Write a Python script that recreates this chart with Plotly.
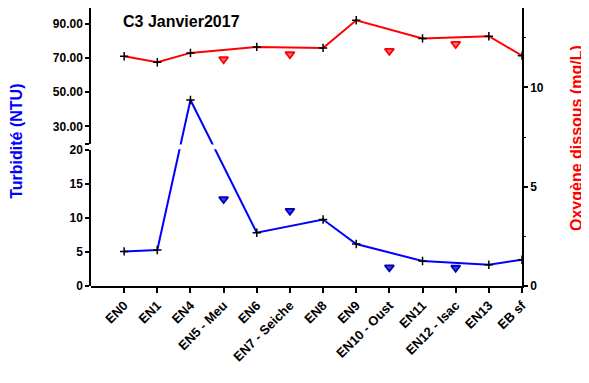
import plotly.graph_objects as go

# ---------------- data ----------------
stations = ["EN0", "EN1", "EN4", "EN5 - Meu", "EN6", "EN7 - Seiche", "EN8", "EN9",
            "EN10 - Oust", "EN11", "EN12 - Isac", "EN13", "EB sf"]
# main river stations (None = tributary)
turbidity_main = [5.09, 5.29, 45.5, None, 7.84, None, 9.79, 6.18, None, 3.68, None, 3.13, 3.87]
oxygen_main = [11.57, 11.27, 11.74, None, 12.04, None, 11.99, 13.38, None, 12.47, None, 12.58, 11.60]
# tributaries
turbidity_trib = [None, None, None, 12.79, None, 11.07, None, None, 2.74, None, 2.69, None, None]
oxygen_trib = [None, None, None, 11.42, None, 11.67, None, None, 11.84, None, 12.19, None, None]

lower_ticks = [0, 5, 10, 15, 20]
upper_ticks = [20, 30, 50, 70, 90]
upper_ticktext = ["", "30.00", "50.00", "70.00", "90.00"]
oxygen_ticks = [0, 5, 10]

# ---------------- broken axis geometry ----------------
D1 = 0.4887   # top of lower part (domain fraction)
D2 = 0.5124   # bottom of upper part
BRK = 20.0    # break value
UMAX = 99.3   # top of upper part


def brk(v):
    """map turbidity value onto broken-axis fraction of plot height"""
    if v is None:
        return None
    if v <= BRK:
        return v / BRK * D1
    return D2 + (v - BRK) / (UMAX - BRK) * (1 - D2)


xs = list(range(len(stations)))
FONT = "Liberation Sans, Arial, sans-serif"
BLUE = "#0000FF"
RED = "#FF0000"

fig = go.Figure()

cross = dict(symbol="cross-thin", size=6, color="black", line=dict(color="black", width=1.5))

# empty traces so the visible broken-axis parts exist (added first, drawn underneath)
fig.add_trace(go.Scatter(x=[None], y=[None], yaxis="y3", showlegend=False, hoverinfo="skip"))
fig.add_trace(go.Scatter(x=[None], y=[None], yaxis="y4", showlegend=False, hoverinfo="skip"))

fig.add_trace(go.Scatter(x=xs, y=[brk(v) for v in turbidity_main], mode="lines+markers",
                         connectgaps=True, line=dict(color=BLUE, width=2), marker=cross,
                         yaxis="y", showlegend=False, hoverinfo="skip"))
fig.add_trace(go.Scatter(x=xs, y=[brk(v) for v in turbidity_trib], mode="markers",
                         marker=dict(symbol="triangle-down", size=8, color="#3a3aff",
                                     line=dict(color="#0000b0", width=1.8)),
                         yaxis="y", showlegend=False, hoverinfo="skip"))
fig.add_trace(go.Scatter(x=xs, y=oxygen_main, mode="lines+markers", connectgaps=True,
                         line=dict(color=RED, width=2), marker=cross,
                         yaxis="y2", showlegend=False, hoverinfo="skip"))
fig.add_trace(go.Scatter(x=xs, y=oxygen_trib, mode="markers",
                         marker=dict(symbol="triangle-down", size=8, color="#ff7070",
                                     line=dict(color="#ff0000", width=1.8)),
                         yaxis="y2", showlegend=False, hoverinfo="skip"))

tickfont = dict(family=FONT, size=12, color="black", weight="bold")
xtickfont = dict(family=FONT, size=13, color="black", weight="bold")

fig.update_layout(
    width=581, height=375,
    margin=dict(l=83, r=67, t=0, b=97),
    paper_bgcolor="white", plot_bgcolor="rgba(0,0,0,0)",
    showlegend=False,
    xaxis=dict(range=[-1, 12], tickvals=xs, ticktext=stations, tickangle=-45,
               showline=True, linecolor="black", linewidth=1.5, ticks="outside",
               ticklen=5, tickwidth=1.5, tickcolor="black", showgrid=False,
               zeroline=False, tickfont=xtickfont, anchor="y", automargin=False),
    yaxis=dict(range=[0, 1], domain=[0, 1], visible=False, showgrid=False, zeroline=False),
    yaxis2=dict(range=[0, 14], overlaying="y", side="right", anchor="x",
                tickvals=oxygen_ticks, showline=True, linecolor="black", linewidth=1.5,
                ticks="outside", ticklen=4, tickwidth=1.5, tickcolor="black",
                minor=dict(dtick=2.5, ticks="outside", ticklen=2, tickcolor="black", tickwidth=1),
                showgrid=False, zeroline=False, tickfont=tickfont, automargin=False),
    yaxis3=dict(domain=[0, D1], range=[0, BRK], anchor="x", tickvals=lower_ticks,
                showline=True, linecolor="black", linewidth=1.5, ticks="outside",
                ticklen=4, tickwidth=1.5, tickcolor="black", showgrid=False,
                zeroline=False, tickfont=tickfont, automargin=False),
    yaxis4=dict(domain=[D2, 1], range=[BRK, UMAX], anchor="x", tickvals=upper_ticks,
                ticktext=upper_ticktext, showline=True, linecolor="black", linewidth=1.5,
                ticks="outside", ticklen=4, tickwidth=1.5, tickcolor="black",
                showgrid=False, zeroline=False, tickfont=tickfont, automargin=False),
    shapes=[dict(type="rect", xref="x domain", yref="y", x0=0.01, x1=0.99,
                 y0=D1 + 0.003, y1=D2 - 0.003, fillcolor="white",
                 line=dict(width=0), layer="above")],
    annotations=[
        dict(text="C3 Janvier2017", xref="paper", yref="paper", x=0.069, y=0.951,
             xanchor="left", yanchor="middle", showarrow=False,
             font=dict(family=FONT, size=16, color="black", weight="bold")),
        dict(text="Turbidité (NTU)", xref="paper", yref="paper", x=-0.172, y=0.522,
             xanchor="center", yanchor="middle", textangle=-90, showarrow=False,
             font=dict(family=FONT, size=16, color=BLUE, weight="bold")),
        dict(text="Oxygène dissous (mg/L)", xref="paper", yref="paper", x=1.125, y=0.532,
             xanchor="center", yanchor="middle", textangle=-90, showarrow=False,
             font=dict(family=FONT, size=16, color=RED, weight="bold")),
    ],
)

fig.write_html("out.html")
